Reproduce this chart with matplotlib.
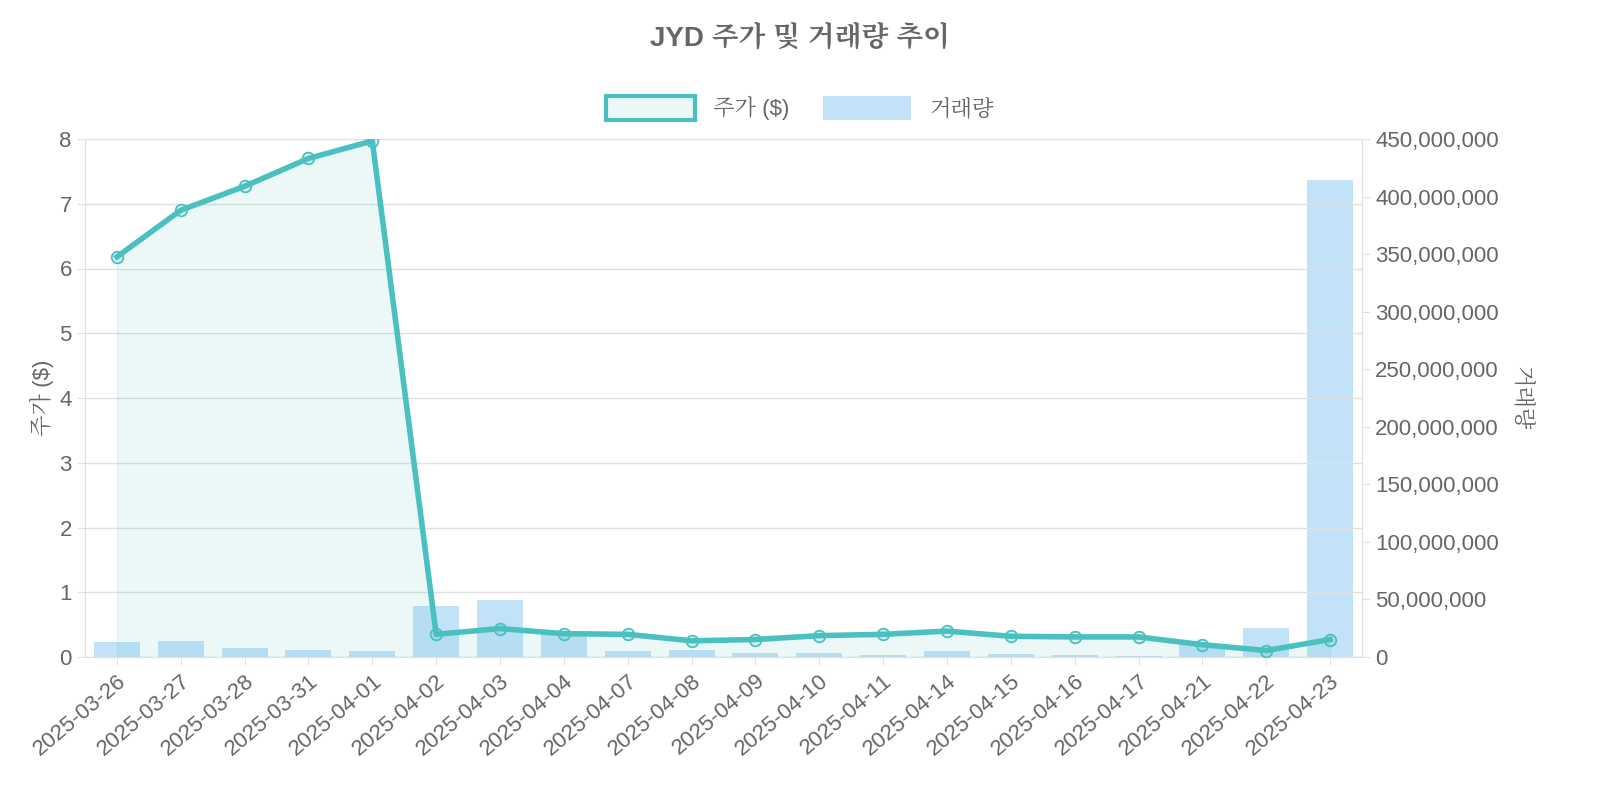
import matplotlib
matplotlib.use("Agg")
import matplotlib.pyplot as plt
from matplotlib import font_manager as fm
from matplotlib.ticker import FuncFormatter, MultipleLocator
from matplotlib.patches import Patch

cjk = None
for f in fm.fontManager.ttflist:
    if "CJK" in f.name and ("KR" in f.name or cjk is None):
        cjk = f.name
fams = ["Liberation Sans"] + ([cjk] if cjk else []) + ["DejaVu Sans"]
plt.rcParams["font.family"] = fams

dates = ["2025-03-26","2025-03-27","2025-03-28","2025-03-31","2025-04-01","2025-04-02","2025-04-03",
         "2025-04-04","2025-04-07","2025-04-08","2025-04-09","2025-04-10","2025-04-11","2025-04-14",
         "2025-04-15","2025-04-16","2025-04-17","2025-04-21","2025-04-22","2025-04-23"]
price = [6.18,6.9,7.27,7.7,7.97,0.35,0.44,0.36,0.35,0.25,0.27,0.33,0.35,0.40,0.32,0.31,0.31,0.19,0.10,0.27]
volume = [13e6,14e6,8e6,6e6,5e6,44e6,49.5e6,23e6,5e6,6e6,3.5e6,3.5e6,2e6,5e6,3e6,1.5e6,1e6,10e6,25e6,414e6]

grey = "#666666"
line_c = "#4BC0C0"
bar_c = (54/255,162/255,235/255,0.3)

fig = plt.figure(figsize=(16,8), dpi=100)
ax = fig.add_axes([85/1600, 1-657/800, 1277/1600, 518/800])
ax2 = ax.twinx()
x = list(range(len(dates)))
ax2.bar(x, volume, width=0.72, color=bar_c, zorder=1)
ax.set_zorder(ax2.get_zorder()+1); ax.patch.set_visible(False)
ax.fill_between(x, price, 0, color=(75/255,192/255,192/255,0.1), zorder=1)
ax.plot(x, price, color=line_c, lw=4, zorder=3)
ax.scatter(x, price, s=70, facecolor=(75/255,192/255,192/255,0.15), edgecolor=line_c, lw=1.3, zorder=4)

ax.set_xlim(-0.5, len(dates)-0.5)
ax.set_ylim(0, 8); ax2.set_ylim(0, 450e6)
ax.yaxis.set_major_locator(MultipleLocator(1))
ax2.yaxis.set_major_locator(MultipleLocator(50e6))
ax2.yaxis.set_major_formatter(FuncFormatter(lambda v,p: f"{int(v):,}"))
ax.set_xticks(x); ax.set_xticklabels(dates, rotation=40, ha="right", rotation_mode="anchor")
ax.grid(axis="y", color="#e0e0e0", lw=1)
ax.set_axisbelow(True)
for a in (ax, ax2):
    for s in a.spines.values():
        s.set_color("#e0e0e0")
    a.spines["top"].set_visible(False)
    a.tick_params(colors=grey, labelsize=16, length=6, color="#e0e0e0")
ax.set_ylabel("주가 ($)", color=grey, fontsize=16)
ax2.set_ylabel("거래량", color=grey, fontsize=16, rotation=270, labelpad=24)
fig.text(0.5, 1-38/800, "JYD 주가 및 거래량 추이", ha="center", va="center", fontsize=20, fontweight="bold", color=grey)
handles = [Patch(facecolor=(75/255,192/255,192/255,0.1), edgecolor=line_c, lw=3, label="주가 ($)"),
           Patch(facecolor=bar_c, edgecolor="none", label="거래량")]
fig.legend(handles=handles, loc="center", bbox_to_anchor=(0.5, 1-108/800), ncol=2, frameon=False,
           fontsize=16, labelcolor=grey, handlelength=4, handleheight=1.3, columnspacing=1.5)
fig.savefig("out.png")
